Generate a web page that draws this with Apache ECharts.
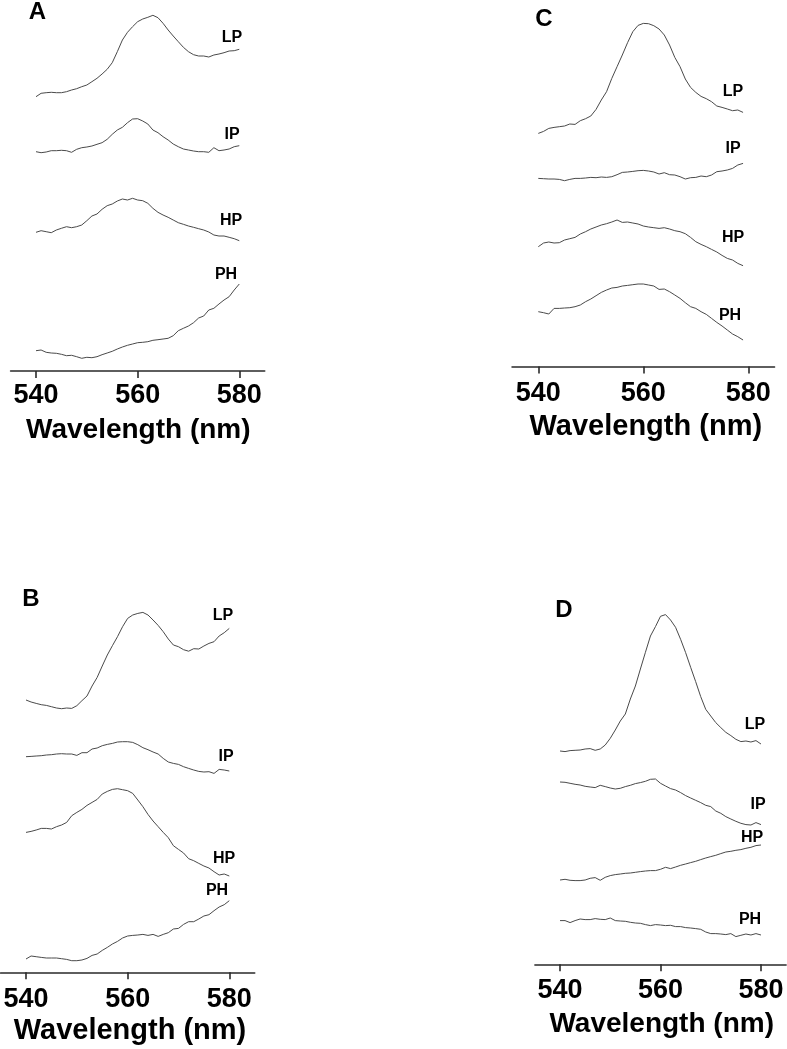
<!DOCTYPE html>
<html>
<head>
<meta charset="utf-8">
<script src="https://cdn.jsdelivr.net/npm/echarts@6/dist/echarts.min.js"></script>
<style>
  html, body { margin: 0; padding: 0; background: #fff; }
  #chart { width: 787px; height: 1049px; }
</style>
</head>
<body>
<div id="chart"></div>
<script>
// ---- data (relative absorbance, arbitrary offset units) ----
const tickValues = [540, 560, 580];
const wavelengths = [540, 541, 542, 543, 544, 545, 546, 547, 548, 549, 550,
  551, 552, 553, 554, 555, 556, 557, 558, 559, 560,
  561, 562, 563, 564, 565, 566, 567, 568, 569, 570,
  571, 572, 573, 574, 575, 576, 577, 578, 579, 580];
const wavelengthsC = [540, 541, 542, 543, 544, 545, 546, 547, 548, 549, 550,
  551, 552, 553, 554, 555, 556, 557, 558, 559, 560,
  561, 562, 563, 564, 565, 566, 567, 568, 569, 570,
  571, 572, 573, 574, 575, 576, 577, 578, 579];
const traceNames = ['LP', 'IP', 'HP', 'PH'];
const panelNames = ['A', 'B', 'C', 'D'];
const axisTitle = 'Wavelength (nm)';

// Panel A
const aLP = [273.3, 276.7, 277.3, 277.7, 277.3, 277.3, 278.3, 280, 281.3, 283.3, 285,
  288.3, 291.7, 296, 300.7, 307.3, 318.3, 330, 337.7, 343.3, 348.3,
  351, 352.7, 354.7, 352.3, 346.7, 340, 334, 328.3, 322.7, 318.3,
  315.3, 314, 314, 313, 315, 316, 317.3, 319, 319.3, 320.7];
const aIP = [218.3, 217.3, 218, 219.3, 219.3, 219.7, 219.3, 217.7, 220.7, 222.3, 223,
  224, 225.7, 227.3, 230.7, 235.7, 240, 242.7, 247.3, 251, 251.3,
  249, 246, 240, 237.3, 233.3, 230, 226, 223.3, 221, 220,
  219, 218.3, 218.3, 217.7, 222.3, 219.3, 220, 221, 223.3, 224.3];
const aHP = [137.7, 139.3, 138.3, 137.3, 140, 141.7, 143.3, 142.3, 143.3, 145, 149.3,
  154, 156, 160.7, 164.3, 166, 169, 171, 170, 171.7, 170,
  169.3, 166.7, 161.7, 157.7, 155, 152.7, 150, 147.3, 145.7, 144,
  142.7, 141.3, 140, 138, 135, 134, 134, 132.7, 131.3, 129.3];
const aPH = [19.3, 20, 17.7, 17, 16.7, 15.7, 14.3, 14.7, 13.3, 11.7, 12.7,
  12.3, 13.3, 15.3, 17, 18.7, 21, 23, 24.7, 26, 27.3,
  27.7, 28.3, 29.7, 30.3, 31, 31.7, 34.3, 39.3, 41.7, 44,
  47.3, 52, 54, 60, 61.7, 66, 70, 73.3, 80, 86];

// Panel B
const bLP = [271.7, 269.7, 268.3, 267, 266.3, 265, 263.7, 263, 263.7, 263.3, 266,
  271, 275.7, 285.7, 294.3, 305.7, 316.7, 326, 335, 345, 353.3,
  356.7, 358.3, 359.3, 356.7, 351.7, 346.3, 340, 332.7, 326.7, 325,
  322, 320.5, 323, 322.7, 325.7, 328.3, 330, 335.7, 339, 343.3];
const bIP = [215, 215.3, 215.7, 216, 216.7, 217, 217.7, 218, 217.7, 217.7, 216.3,
  219, 219, 222.7, 223.7, 226, 227.3, 228.3, 229.7, 230, 230,
  229.3, 227, 224, 222, 219.7, 217.7, 213.3, 209.7, 208.3, 207.3,
  205, 203.3, 201.7, 200.3, 199.7, 200, 198.3, 202.3, 201.7, 200.7];
const bHP = [139.3, 140.3, 141.7, 143.3, 143.3, 142.7, 145, 146.7, 149.3, 156, 159.3,
  162.3, 166.3, 169.3, 172.3, 177.7, 180.3, 182.3, 183, 182, 181,
  178.3, 171.7, 165, 157.3, 150.7, 145, 139.3, 134, 126, 122.3,
  118.7, 113, 111, 108.3, 105.7, 103.7, 100, 96.7, 97.7, 95.7];
const bPH = [12.7, 15.7, 15, 14.3, 13.7, 13.7, 13.7, 13, 12.3, 11, 11,
  11.7, 13.3, 16.3, 17.7, 21.3, 24.3, 27.7, 30.3, 33.7, 35.7,
  36.3, 36.7, 37.3, 36.3, 37.3, 35.3, 37.3, 39, 42.7, 43.3,
  47.3, 50, 50, 52.7, 55.7, 57, 61, 64.7, 67, 71];

// Panel C
const cLP = [232.3, 234.3, 237.3, 238.3, 239, 239.7, 241.7, 241.3, 245, 247, 249.7,
  256.3, 265.7, 274, 287.3, 299, 310.7, 323, 334, 340.3, 342.3,
  342, 340, 336.7, 330.7, 320.7, 308.3, 299, 286.7, 278.3, 273.3,
  269.3, 267, 264, 259.7, 258.3, 256.7, 255, 255.7, 253.3];
const cIP = [187.3, 187, 186.7, 186.7, 186.3, 185, 186.3, 187.3, 187.3, 187.7, 188.3,
  188, 188.7, 188.3, 189, 191, 193.3, 193.7, 194.3, 195, 195.3,
  194.7, 193.7, 191.7, 193, 191, 190.7, 189, 186.7, 188, 188.3,
  189.7, 189, 190.7, 194, 194.7, 195.7, 197.3, 200.7, 202.3];
const cHP = [119, 122.7, 123.7, 122.7, 123, 125.7, 127, 128.3, 131.7, 134, 136.7,
  138.7, 140.7, 142, 143.7, 145.7, 143.3, 143.7, 142.7, 141.7, 139.7,
  138.7, 138, 137.3, 138, 136.7, 135, 134, 132, 128.3, 124,
  121.3, 119, 116.3, 113.7, 110.3, 107.3, 105.7, 102.3, 100];
const cPH = [54, 53, 51.7, 57.3, 57.3, 57.7, 58, 59, 60.7, 64, 66.7,
  70, 73.3, 75.7, 77.7, 78.3, 79.7, 80.3, 81, 81.7, 81.7,
  80.7, 79.7, 76.3, 76.7, 74, 70.7, 67.3, 63, 59, 57.3,
  54, 51.3, 47.3, 43.3, 39.7, 35.7, 31.7, 29, 25.7];

// Panel D
const dLP = [212.3, 211.7, 212.7, 213, 213.3, 214.3, 214.7, 213, 214.3, 218.3, 225,
  233.3, 242.3, 249.3, 264.3, 277.3, 294.3, 311, 327.3, 336.7, 347,
  348.7, 343.3, 336, 324, 310.7, 296, 281.7, 266.7, 254, 247.3,
  240.7, 235.7, 231, 227.7, 224, 221.7, 222.3, 221.3, 222.7, 219.3];
const dIP = [181.3, 181, 180, 179, 178.3, 177, 176.3, 175.7, 178, 176.7, 175.3,
  174.3, 175, 176.7, 178, 179.7, 180.7, 182, 184, 184.3, 180,
  177.3, 174.7, 173.3, 170.7, 167.7, 165.3, 163, 160.7, 158, 156.7,
  152.3, 150, 146.7, 144.3, 142, 140, 138.7, 138.3, 140.7, 138.7];
const dHP = [83.3, 84, 83, 82.7, 82.7, 83.3, 85, 85.7, 83, 86, 87.7,
  88.7, 89.3, 90, 90.3, 91, 91.7, 92.3, 92.7, 92.7, 94,
  96, 94.7, 96.3, 98, 99.3, 100.7, 102, 103.7, 105.3, 106.7,
  108, 109.7, 111.3, 112, 113, 113.7, 115, 116, 117.7, 118.3];
const dPH = [42.7, 42.7, 40.7, 42.7, 44.3, 43.7, 43.7, 44.7, 44, 43.7, 45.3,
  42.7, 42.3, 42, 41, 40.3, 40, 38.7, 37.7, 38.7, 38.3,
  37.7, 38, 36.7, 36.7, 35.7, 35.3, 34.7, 34, 31.3, 29.7,
  29.7, 29.3, 28.7, 29.7, 26.7, 28, 29.3, 28.3, 29.7, 28.3];

// ---- layout ----
const FONT = '"Liberation Sans", Arial, Helvetica, sans-serif';
const panels = [
  { name: 'A', wl: wavelengths, traces: [aLP, aIP, aHP, aPH],
    grid: { left: 10.6, top: 0, width: 254.1, height: 371 }, ymin: -1, ymax: 370, labelMargin: 11.5,
    letter: [37.5, 12], titlePos: [138.3, 430], titleSize: 28,
    labels: [[232, 38], [232, 135], [231, 221], [226, 275]] },
  { name: 'B', wl: wavelengths, traces: [bLP, bIP, bHP, bPH],
    grid: { left: 0.6, top: 580, width: 254.1, height: 392.3 }, ymin: -0.6, ymax: 391.7, labelMargin: 14,
    letter: [31, 599.5], titlePos: [130, 1031], titleSize: 29,
    labels: [[223, 616], [226, 757], [224, 859], [217, 891]] },
  { name: 'C', wl: wavelengthsC, traces: [cLP, cIP, cHP, cPH],
    grid: { left: 512.05, top: 0, width: 262.5, height: 366.5 }, ymin: -0.8, ymax: 365.7, labelMargin: 14,
    letter: [544, 19], titlePos: [645.8, 427], titleSize: 29,
    labels: [[733, 92], [733, 149], [733, 238], [730, 316]] },
  { name: 'D', wl: wavelengths, traces: [dLP, dIP, dHP, dPH],
    grid: { left: 534.9, top: 580, width: 251.2, height: 384.3 }, ymin: -1, ymax: 383.3, labelMargin: 13,
    letter: [564, 610], titlePos: [661.7, 1024], titleSize: 28,
    labels: [[755, 725], [758, 805], [752, 838], [750, 920]] }
];

const grids = [], xAxes = [], yAxes = [], series = [], graphics = [];
function textEl(str, x, y, size) {
  return {
    type: 'text', x: x, y: y, silent: true,
    style: {
      text: str, fill: '#000',
      font: 'bold ' + size + 'px ' + FONT,
      align: 'center', verticalAlign: 'middle',
      textAlign: 'center', textVerticalAlign: 'middle'
    }
  };
}
panels.forEach((p, i) => {
  grids.push(Object.assign({ outerBoundsMode: 'none', containLabel: false }, p.grid));
  xAxes.push({
    type: 'value', gridIndex: i, min: 535, max: 585,
    axisLine: { show: true, onZero: false, lineStyle: { color: '#2a2a2a', width: 1.6 } },
    axisTick: { show: true, length: 7, customValues: tickValues, lineStyle: { color: '#2a2a2a', width: 1.6 } },
    axisLabel: { show: true, customValues: tickValues, color: '#000', fontSize: 27, fontWeight: 'bold',
      fontFamily: FONT, margin: p.labelMargin },
    splitLine: { show: false }
  });
  yAxes.push({
    type: 'value', gridIndex: i, min: p.ymin, max: p.ymax, show: false,
    splitLine: { show: false }
  });
  p.traces.forEach((vals, k) => {
    series.push({
      type: 'line', name: p.name + ' ' + traceNames[k],
      xAxisIndex: i, yAxisIndex: i,
      data: p.wl.map((w, j) => [w, vals[j]]),
      showSymbol: false, symbol: 'none', smooth: false,
      lineStyle: { color: '#4a4a4a', width: 1 },
      silent: true, animation: false
    });
    graphics.push(textEl(traceNames[k], p.labels[k][0], p.labels[k][1], 16));
  });
  graphics.push(textEl(p.name, p.letter[0], p.letter[1], 24));
  graphics.push(textEl(axisTitle, p.titlePos[0], p.titlePos[1], p.titleSize));
});

const chart = echarts.init(document.getElementById('chart'), null, { renderer: 'canvas' });
chart.setOption({
  backgroundColor: '#ffffff',
  animation: false,
  grid: grids,
  xAxis: xAxes,
  yAxis: yAxes,
  series: series,
  graphic: graphics
});
</script>
</body>
</html>
